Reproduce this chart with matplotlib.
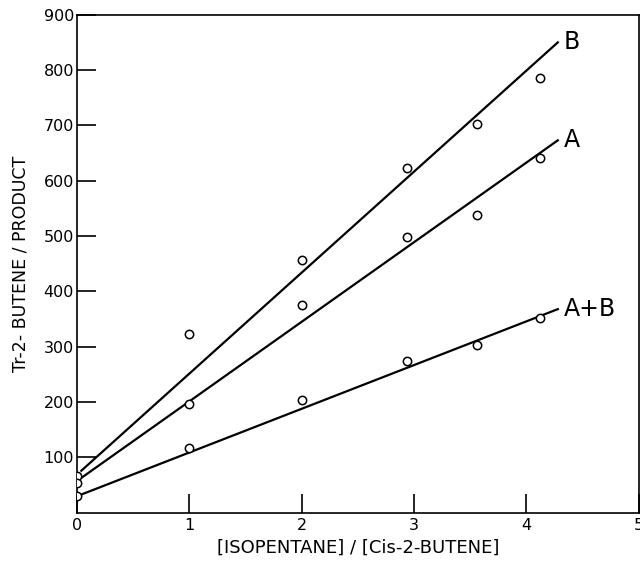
import numpy as np
import matplotlib.pyplot as plt

# [isopentane]/[cis-2-butene] ratios
x_pts = [0.0, 1.0, 2.0, 2.94, 3.56, 4.12]

# measured tr-2-butene / product
b_pts = [67, 323, 457, 623, 702, 785]
a_pts = [54, 197, 375, 498, 538, 641]
ab_pts = [31, 117, 204, 274, 303, 352]

# fitted straight lines (start, end)
line_x = [0.04, 4.28]
b_line = [76, 850]
a_line = [63, 673]
ab_line = [33, 368]

x_ticks = [0, 1, 2, 3, 4, 5]
y_ticks = [100, 200, 300, 400, 500, 600, 700, 800, 900]

plt.rcParams['font.family'] = ['DejaVu Sans']

fig = plt.figure(figsize=(6.4, 5.66), dpi=100)
ax = fig.add_axes([0.120, 0.094, 0.878, 0.880])

for ys, yl in [(b_pts, b_line), (a_pts, a_line), (ab_pts, ab_line)]:
    ax.plot(line_x, yl, color='black', lw=1.6, zorder=2)
    ax.plot(x_pts, ys, 'o', mfc='white', mec='black', mew=1.1, ms=6, zorder=3)

ax.text(4.33, b_line[1], 'B', fontsize=17, va='center', ha='left', fontweight='medium')
ax.text(4.33, a_line[1], 'A', fontsize=17, va='center', ha='left', fontweight='medium')
ax.text(4.33, ab_line[1], 'A+B', fontsize=17, va='center', ha='left', fontweight='medium')

ax.set_xlim(0, 5)
ax.set_ylim(0, 900)
ax.set_xticks(x_ticks)
ax.set_yticks(y_ticks)
ax.tick_params(direction='in', length=14, width=1.2, labelsize=11.5, pad=4)
ax.tick_params(axis='y', pad=2)
for s in ax.spines.values():
    s.set_linewidth(1.2)

ax.set_ylabel('Tr-2- BUTENE / PRODUCT', fontsize=12.5, labelpad=10)
ax.set_xlabel('[ISOPENTANE] / [Cis-2-BUTENE]', fontsize=13, labelpad=4)

fig.savefig('out.png', dpi=100)
